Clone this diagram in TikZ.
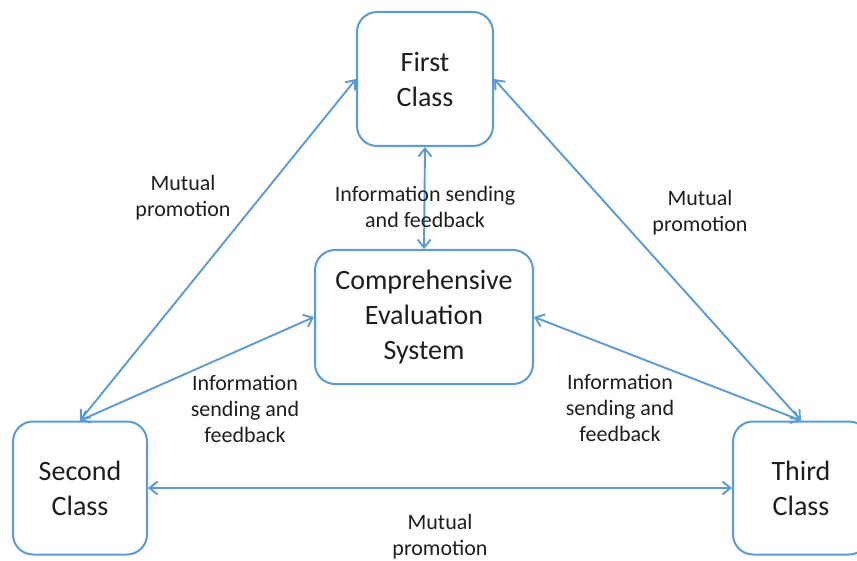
\documentclass[tikz,border=0pt]{standalone}
\usepackage{fontspec}
\setmainfont{Carlito}
\usepackage{xcolor}
\usetikzlibrary{arrows.meta}
\definecolor{lineblue}{RGB}{91,155,213}
\definecolor{txt}{RGB}{30,30,30}

\begin{document}
\begin{tikzpicture}[x=1pt,y=-1pt,
    classbox/.style={draw=lineblue, line width=2pt, rounded corners=20pt, fill=white,
        align=center, text=txt, inner sep=0pt, font=\fontsize{28}{35}\selectfont},
    edgelabel/.style={align=center, text=txt, inner sep=0pt, font=\fontsize{22}{26}\selectfont},
    link/.style={draw=lineblue, line width=1.9pt, {Straight Barb[length=8pt,width=13pt]}-{Straight Barb[length=8pt,width=13pt]}}]
    \useasboundingbox (0,0) rectangle (857,561);
    \clip (0,0) rectangle (857,561);
    % boxes
    \node[classbox, minimum width=136pt, minimum height=134pt] (first) at (425,79) {First\\Class};
    \node[classbox, minimum width=218pt, minimum height=134pt] (ces) at (424,317) {Comprehensive\\Evaluation\\System};
    \node[classbox, minimum width=134pt, minimum height=133pt] (second) at (80,488) {Second\\Class};
    \node[classbox, minimum width=136pt, minimum height=133pt] (third) at (801,488) {Third\\Class};
    % connectors
    \draw[link] (first.west) -- (second.north);
    \draw[link] (first.east) -- (third.north);
    \draw[link] (first.south) -- (ces.north);
    \draw[link] (ces.west) -- (second.north);
    \draw[link] (ces.east) -- (third.north);
    \draw[link] (second.east) -- (third.west);
    % labels
    \node[edgelabel] (mpleft) at (183,198) {Mutual\\promotion};
    \node[edgelabel] (mpright) at (700,213) {Mutual\\promotion};
    \node[edgelabel] (mpbottom) at (440,537) {Mutual\\promotion};
    \node[edgelabel] (isftop) at (425,207) {Information sending\\and feedback};
    \node[edgelabel] (isfleft) at (245,409) {Information\\sending and\\feedback};
    \node[edgelabel] (isfright) at (620,408) {Information\\sending and\\feedback};
\end{tikzpicture}
\end{document}
